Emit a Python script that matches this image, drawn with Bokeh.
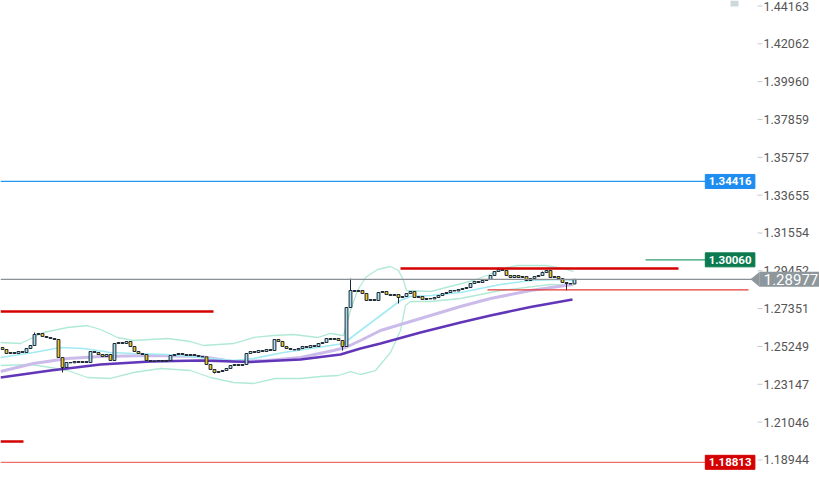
import numpy as np
from bokeh.plotting import figure
from bokeh.models import Range1d, ColumnDataSource
from bokeh.core.properties import value
from bokeh.embed import file_html
from bokeh.resources import INLINE

# ---------------- data ----------------
first_open = 1.25191
closes = [
    1.25080, 1.24858, 1.24913, 1.24858, 1.24969, 1.24913, 1.25135, 1.25302, 1.25913, 1.25969,
    1.25802, 1.25746, 1.25691, 1.25635, 1.24635, 1.24080, 1.24357, 1.24340, 1.24413, 1.24357,
    1.24413, 1.24357, 1.24969, 1.24913, 1.24802, 1.24691, 1.24802, 1.24469, 1.25413, 1.25469,
    1.25413, 1.25524, 1.25246, 1.24969, 1.24858, 1.24802, 1.24469, 1.24413, 1.24440, 1.24469,
    1.24413, 1.24469, 1.24746, 1.24802, 1.24858, 1.24802, 1.24746, 1.24802, 1.24746, 1.24691,
    1.24670, 1.24246, 1.23969, 1.23802, 1.23857, 1.23913, 1.24024, 1.24191, 1.24246, 1.24191,
    1.24246, 1.24858, 1.24969, 1.24913, 1.25024, 1.24969, 1.25080, 1.25024, 1.25635, 1.25524,
    1.25246, 1.25135, 1.25080, 1.25060, 1.25135, 1.25246, 1.25191, 1.25302, 1.25246, 1.25413,
    1.25469, 1.25691, 1.25635, 1.25691, 1.25580, 1.25246, 1.27413, 1.28358, 1.28302, 1.28358,
    1.28191, 1.27802, 1.27858, 1.27802, 1.28247, 1.28302, 1.28136, 1.28080, 1.28136, 1.27969,
    1.28024, 1.28191, 1.28302, 1.27969, 1.28024, 1.27858, 1.27913, 1.27890, 1.27969, 1.28080,
    1.28191, 1.28247, 1.28358, 1.28330, 1.28413, 1.28469, 1.28524, 1.28747, 1.28858, 1.28802,
    1.28913, 1.28969, 1.29191, 1.29413, 1.29524, 1.29469, 1.29191, 1.29080, 1.29191, 1.29080,
    1.29136, 1.28913, 1.29024, 1.29136, 1.29191, 1.29358, 1.29469, 1.29080, 1.29136, 1.29024,
    1.28802, 1.28747, 1.28720, 1.28977,
]
wick_high = {87: 1.29024, 124: 1.29635, 135: 1.29413, 8: 1.26024}
wick_low = {15: 1.23802, 53: 1.23746, 85: 1.25024, 99: 1.27635, 141: 1.28358}

# slow moving average (dark purple)
ma_slow_x = [-0.5, 12, 24.5, 37, 49.5, 62, 74.5, 84.5, 89.5, 94.5, 104.5, 114.5, 122, 132, 142.5]
ma_slow_y = [1.23524, 1.23913, 1.24246, 1.24413, 1.24469, 1.24385, 1.24524, 1.24802, 1.25135,
             1.25413, 1.26024, 1.26580, 1.26969, 1.27441, 1.27858]
# faster moving average (light purple)
ma_fast_x = [-0.5, 7.75, 16.25, 24.5, 37, 49.5, 57.75, 66.25, 74.5, 82.75, 85.75, 89.5, 94.5,
             104.5, 114.5, 122, 132, 142.5]
ma_fast_y = [1.23857, 1.24302, 1.24580, 1.24691, 1.24746, 1.24691, 1.24413, 1.24469, 1.24635,
             1.25024, 1.25191, 1.25580, 1.26136, 1.26802, 1.27469, 1.27913, 1.28358, 1.28691]
# Bollinger middle
bb_mid_x = [-0.5, 7.75, 14.5, 20.25, 27, 32.75, 41.25, 49.5, 57.75, 62.75, 70.25, 78.75, 85.25,
            89.5, 94.5, 99.5, 102, 107, 114.5, 124.5, 132, 139.5, 142.75]
bb_mid_y = [1.24635, 1.24913, 1.25191, 1.25135, 1.24913, 1.24858, 1.24802, 1.24635, 1.24469,
            1.24580, 1.24913, 1.25191, 1.25413, 1.26136, 1.26969, 1.27802, 1.28024, 1.28080,
            1.28247, 1.28691, 1.28913, 1.28969, 1.28913]
# Bollinger upper
bb_up_x = [-0.5, 4.5, 10.25, 16.25, 21.25, 24.5, 28.75, 32.75, 37, 41.25, 47, 50.25, 57.75, 62.75,
           67.75, 72.75, 78.75, 82, 85.25, 87, 88.75, 90.75, 93.75, 97, 99, 100.25, 101, 107,
           117.75, 126.25, 128.75, 135.75, 140.25, 142.75]
bb_up_y = [1.25469, 1.25413, 1.26024, 1.26302, 1.26413, 1.26191, 1.25746, 1.25580, 1.25635,
           1.25691, 1.25524, 1.25302, 1.25413, 1.25746, 1.25857, 1.25913, 1.25746, 1.25969,
           1.25857, 1.27247, 1.28358, 1.29080, 1.29524, 1.29691, 1.29469, 1.28913, 1.28358,
           1.28302, 1.28913, 1.29635, 1.29746, 1.29746, 1.29580, 1.29413]
# Bollinger lower
bb_lo_x = [-0.5, 7, 12, 16.25, 21.25, 27, 32.75, 39.5, 47, 52, 57.75, 62.75, 68.25, 74.5, 79.5,
           84, 87, 89.5, 93.25, 97, 99.5, 100.75, 102, 107, 114.5, 124.5, 137, 142.75]
bb_lo_y = [1.24191, 1.24246, 1.24080, 1.23913, 1.23524, 1.23469, 1.23802, 1.24024, 1.23913,
           1.23524, 1.23246, 1.23191, 1.23469, 1.23469, 1.23580, 1.23635, 1.23857, 1.23691,
           1.23913, 1.24913, 1.26136, 1.27524, 1.27746, 1.27746, 1.27913, 1.28358, 1.28691,
           1.28635]

# horizontal levels: price, first bar, last bar
level_price = [1.34416, 1.30060, 1.29580, 1.28397, 1.27191, 1.19968, 1.18813]
level_x0 = [-0.5, 160.75, 99.5, 121.25, -0.5, -0.5, -0.5]
level_x1 = [175.75, 175.75, 169.0, 186.5, 52.75, 5.25, 175.75]
level_color = ["#2196f3", "#2e9e70", "#d50000", "#e53935", "#d50000", "#d50000", "#ef6f6f"]
level_width = [1.2, 1.2, 2.5, 1.3, 2.5, 2.5, 1.2]

tag_price = [1.34416, 1.30060, 1.18813]
tag_text = ["1.34416", "1.30060", "1.18813"]
tag_color = ["#1e8cf0", "#0b7a4f", "#d50000"]

current_price = 1.28977
current_text = "1.28977"

tick_values = [1.18944, 1.21046, 1.23147, 1.25249, 1.27351, 1.29452, 1.31554,
               1.33655, 1.35757, 1.37859, 1.39960, 1.42062, 1.44163]
tick_labels = ["%.5f" % t for t in tick_values]

# ---------------- layout constants (bars) ----------------
X_MIN, X_MAX = -0.5, 204.25      # full canvas width
AXIS_X = 188.75                  # where the price scale starts
Y_MIN, Y_MAX = 1.17802, 1.44469

p = figure(width=819, height=480, x_range=Range1d(X_MIN, X_MAX), y_range=Range1d(Y_MIN, Y_MAX),
           output_backend="svg", toolbar_location=None, x_axis_location=None,
           y_axis_location=None, min_border=0, background_fill_color="white",
           border_fill_color="white", outline_line_color=None)
p.grid.visible = False

# indicators
p.line(bb_up_x, bb_up_y, line_color="#b0ead6", line_width=1.3)
p.line(bb_lo_x, bb_lo_y, line_color="#b0ead6", line_width=1.3)
p.line(ma_fast_x, ma_fast_y, line_color="#cbbbea", line_width=3)
p.line(bb_mid_x, bb_mid_y, line_color="#a2eaf4", line_width=1.6)
p.line(ma_slow_x, ma_slow_y, line_color="#6236b8", line_width=2.5)

# candles
n = len(closes)
opens = [first_open] + closes[:-1]
highs = [max(o, c) for o, c in zip(opens, closes)]
lows = [min(o, c) for o, c in zip(opens, closes)]
for k, v in wick_high.items():
    highs[k] = v
for k, v in wick_low.items():
    lows[k] = v
up = [c >= o for o, c in zip(opens, closes)]
src = ColumnDataSource(dict(x=list(range(n)), h=highs, l=lows,
                            top=[max(o, c) for o, c in zip(opens, closes)],
                            bot=[min(o, c) for o, c in zip(opens, closes)],
                            fill=["#a9def2" if u else "#f4c21b" for u in up]))
p.segment("x", "h", "x", "l", source=src, line_color="#1c2833", line_width=1)
p.vbar(x="x", top="top", bottom="bot", width=0.7, fill_color="fill",
       line_color="#1c2833", line_width=1, source=src)

# levels
p.segment(x0=level_x0, y0=level_price, x1=level_x1, y1=level_price,
          line_color=level_color, line_width=level_width)
p.segment(x0=[X_MIN], y0=[current_price], x1=[AXIS_X], y1=[current_price],
          line_color="#8a9094", line_width=1.2)

# price tags on the levels
p.rect(x=[181.9] * 3, y=tag_price, width=12.4, height=14, height_units="screen",
       fill_color=tag_color, line_color=tag_color)
p.text(x=[181.9] * 3, y=tag_price, text=tag_text, text_color="white",
       text_font=value("Roboto"), text_font_style="bold", text_font_size="11.5px",
       text_align="center", text_baseline="middle")

# tiny grey marker top right
p.quad(left=[182.0], right=[184.0], top=[Y_MAX], bottom=[1.44130], fill_color="#cfd8dc",
       line_color=None)

# price scale (ticks + labels)
p.segment(x0=[AXIS_X] * len(tick_values), y0=tick_values, x1=[AXIS_X + 1.25] * len(tick_values),
          y1=tick_values, line_color="#c8c8c8", line_width=1)
p.text(x=[AXIS_X + 1.5] * len(tick_values), y=tick_values, text=tick_labels,
       text_color="#555555", text_font=value("Roboto"), text_font_size="12.5px",
       text_align="left", text_baseline="middle")

# current price tag
half = 0.0042
p.patch(x=[187.0, 189.3, 189.3], y=[current_price, current_price + half, current_price - half],
        fill_color="#8d979c", line_color=None)
p.rect(x=[(189.25 + X_MAX) / 2], y=[current_price], width=X_MAX - 189.25, height=15,
       height_units="screen", fill_color="#8d979c", line_color=None)
p.text(x=[190.3], y=[current_price], text=[current_text], text_color="white",
       text_font=value("Roboto"), text_font_size="15px", text_align="left",
       text_baseline="middle")

open("out.html", "w").write(file_html(p, INLINE))
